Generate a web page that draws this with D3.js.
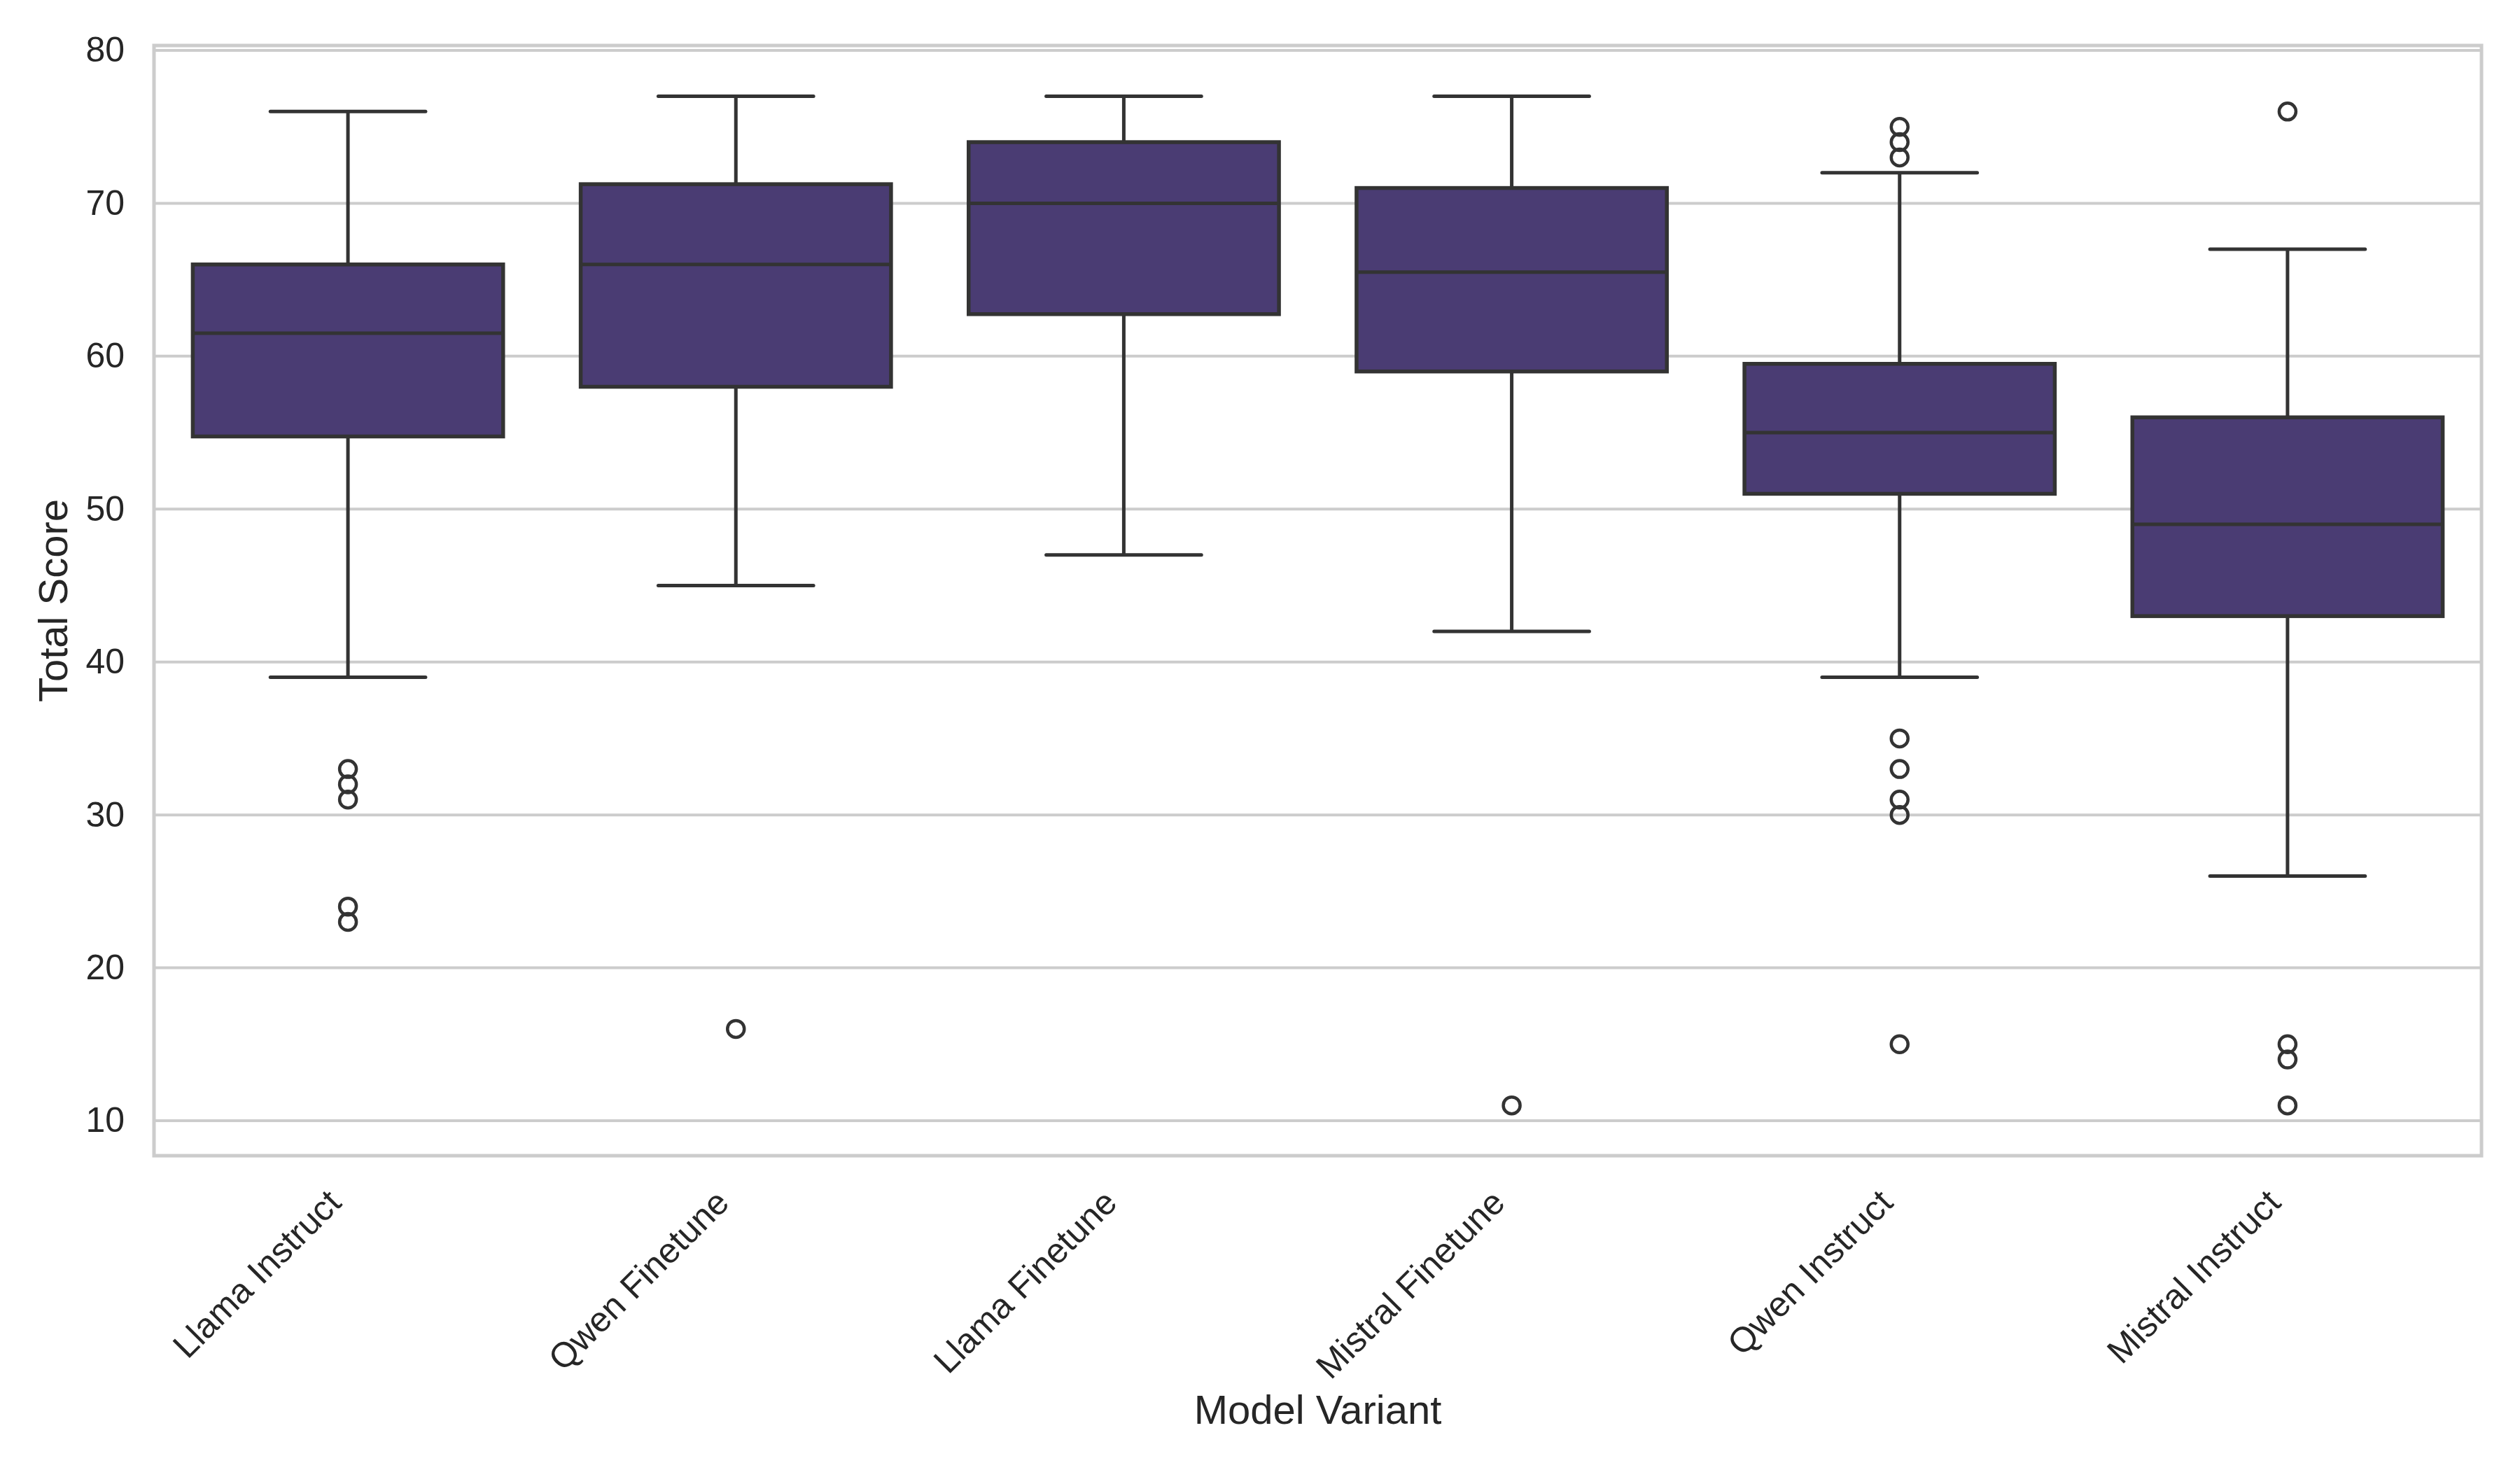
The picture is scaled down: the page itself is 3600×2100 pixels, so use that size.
<!DOCTYPE html>
<html>
  <head>
    <meta charset="utf-8" />
    <title>Total Score by Model Variant</title>
    <style>
      body { margin: 0; background: #fff; }
      text { font-family: "Liberation Sans", Arial, sans-serif; fill: #262626; }
    </style>
  </head>
  <body>
    <div id="plot"></div>
    <script src="https://d3js.org/d3.v7.min.js"></script>
    <script>
      // data
      const categories = ["Llama Instruct", "Qwen Finetune", "Llama Finetune", "Mistral Finetune", "Qwen Instruct", "Mistral Instruct"];
      const whiskerLow = [39, 45, 47, 42, 39, 26];
      const q1 = [54.75, 58, 62.75, 59, 51, 43];
      const medians = [61.5, 66, 70, 65.5, 55, 49];
      const q3 = [66, 71.25, 74, 71, 59.5, 56];
      const whiskerHigh = [76, 77, 77, 77, 72, 67];
      const outliers = [
        [33, 32, 31, 24, 23],
        [16],
        [],
        [11],
        [75, 74, 73, 35, 33, 31, 30, 15],
        [76, 15, 14, 11]
      ];
      const yTicks = [10, 20, 30, 40, 50, 60, 70, 80];

      const width = 3600, height = 2100;
      const margin = { top: 65, right: 55, bottom: 449, left: 220 };
      const boxColor = "#4a3c73", lineColor = "#333333", gridColor = "#cccccc";

      const svg = d3.select("#plot")
        .append("svg")
        .attr("width", width)
        .attr("height", height);

      const x = d3.scaleBand()
        .domain(categories)
        .range([margin.left, width - margin.right])
        .padding(0);

      const y = d3.scaleLinear()
        .domain([7.71, 80.32])
        .range([height - margin.bottom, margin.top]);

      // gridlines
      svg.append("g")
        .selectAll("line")
        .data(yTicks)
        .join("line")
        .attr("x1", margin.left)
        .attr("x2", width - margin.right)
        .attr("y1", d => y(d))
        .attr("y2", d => y(d))
        .attr("stroke", gridColor)
        .attr("stroke-width", 4);

      // y axis labels
      const yAxis = svg.append("g")
        .attr("transform", `translate(${margin.left - 42},0)`)
        .call(d3.axisLeft(y).tickValues(yTicks).tickSize(0).tickPadding(0));
      yAxis.select(".domain").remove();
      yAxis.selectAll("text")
        .attr("font-size", 50)
        .attr("font-family", "Liberation Sans, Arial, sans-serif")
        .attr("fill", "#262626");

      // x axis labels, rotated 45deg
      const xAxis = svg.append("g")
        .attr("transform", `translate(0,${height - margin.bottom})`)
        .call(d3.axisBottom(x).tickSize(0).tickPadding(0));
      xAxis.select(".domain").remove();
      xAxis.selectAll("text")
        .attr("font-size", 50)
        .attr("font-family", "Liberation Sans, Arial, sans-serif")
        .attr("fill", "#262626")
        .attr("text-anchor", "end")
        .attr("dy", null)
        .attr("y", 0)
        .attr("transform", "translate(-7,70) rotate(-45)");

      const bw = x.bandwidth() * 0.8;
      const cx = d => x(d) + x.bandwidth() / 2;

      const groups = svg.append("g")
        .selectAll("g")
        .data(categories)
        .join("g");

      // whiskers
      groups.append("line")
        .attr("x1", cx).attr("x2", cx)
        .attr("y1", (d, i) => y(whiskerHigh[i]))
        .attr("y2", (d, i) => y(q3[i]))
        .attr("stroke", lineColor).attr("stroke-width", 5);
      groups.append("line")
        .attr("x1", cx).attr("x2", cx)
        .attr("y1", (d, i) => y(q1[i]))
        .attr("y2", (d, i) => y(whiskerLow[i]))
        .attr("stroke", lineColor).attr("stroke-width", 5);

      // caps
      [whiskerHigh, whiskerLow].forEach(arr => {
        groups.append("line")
          .attr("x1", d => cx(d) - bw / 4)
          .attr("x2", d => cx(d) + bw / 4)
          .attr("y1", (d, i) => y(arr[i]))
          .attr("y2", (d, i) => y(arr[i]))
          .attr("stroke", lineColor).attr("stroke-width", 5)
          .attr("stroke-linecap", "round");
      });

      // boxes
      groups.append("rect")
        .attr("x", d => cx(d) - bw / 2)
        .attr("width", bw)
        .attr("y", (d, i) => y(q3[i]))
        .attr("height", (d, i) => y(q1[i]) - y(q3[i]))
        .attr("fill", boxColor)
        .attr("stroke", lineColor)
        .attr("stroke-width", 5.5);

      // medians
      groups.append("line")
        .attr("x1", d => cx(d) - bw / 2)
        .attr("x2", d => cx(d) + bw / 2)
        .attr("y1", (d, i) => y(medians[i]))
        .attr("y2", (d, i) => y(medians[i]))
        .attr("stroke", lineColor).attr("stroke-width", 5);

      // fliers
      groups.each(function (d, i) {
        d3.select(this).selectAll("circle")
          .data(outliers[i])
          .join("circle")
          .attr("cx", cx(d))
          .attr("cy", v => y(v))
          .attr("r", 12)
          .attr("fill", "none")
          .attr("stroke", lineColor)
          .attr("stroke-width", 4.5);
      });

      // frame
      svg.append("rect")
        .attr("x", margin.left)
        .attr("y", margin.top)
        .attr("width", width - margin.left - margin.right)
        .attr("height", height - margin.top - margin.bottom)
        .attr("fill", "none")
        .attr("stroke", gridColor)
        .attr("stroke-width", 5);

      // axis titles
      svg.append("text")
        .attr("x", (margin.left + width - margin.right) / 2)
        .attr("y", 2034)
        .attr("text-anchor", "middle")
        .attr("font-size", 58)
        .text("Model Variant");

      svg.append("text")
        .attr("transform", `translate(96,${(margin.top + height - margin.bottom) / 2}) rotate(-90)`)
        .attr("text-anchor", "middle")
        .attr("font-size", 58)
        .text("Total Score");
    </script>
  </body>
</html>
